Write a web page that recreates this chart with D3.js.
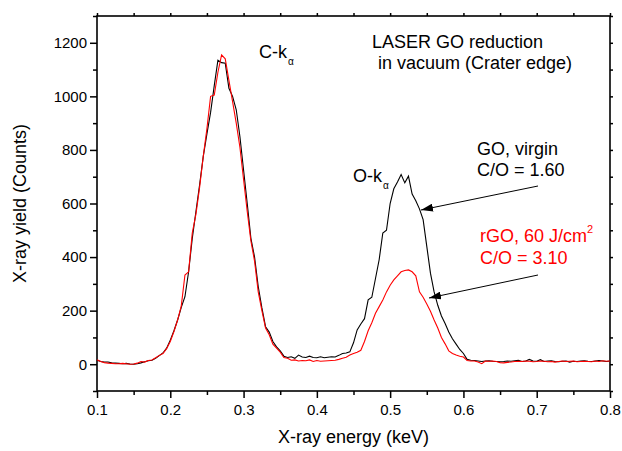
<!DOCTYPE html>
<html>
<head>
<meta charset="utf-8">
<script src="https://cdn.jsdelivr.net/npm/d3@7"></script>
<style>
  body { margin: 0; background: #fff; }
  svg { font-family: "Liberation Sans", Arial, sans-serif; }
</style>
</head>
<body>
<script>
// energy channels (keV)
const energy = [
  0.100, 0.105, 0.110, 0.115, 0.120, 0.125, 0.130, 0.135, 0.140, 0.145,
  0.150, 0.155, 0.160, 0.165, 0.170, 0.175, 0.180, 0.185, 0.190, 0.195,
  0.200, 0.205, 0.210, 0.215, 0.220, 0.225, 0.230, 0.235, 0.240, 0.245,
  0.250, 0.255, 0.260, 0.265, 0.270, 0.275, 0.280, 0.285, 0.290, 0.295,
  0.300, 0.305, 0.310, 0.315, 0.320, 0.325, 0.330, 0.335, 0.340, 0.345,
  0.350, 0.355, 0.360, 0.365, 0.370, 0.375, 0.380, 0.385, 0.390, 0.395,
  0.400, 0.405, 0.410, 0.415, 0.420, 0.425, 0.430, 0.435, 0.440, 0.445,
  0.450, 0.455, 0.460, 0.465, 0.470, 0.475, 0.480, 0.485, 0.490, 0.495,
  0.500, 0.505, 0.510, 0.515, 0.520, 0.525, 0.530, 0.535, 0.540, 0.545,
  0.550, 0.555, 0.560, 0.565, 0.570, 0.575, 0.580, 0.585, 0.590, 0.595,
  0.600, 0.605, 0.610, 0.615, 0.620, 0.625, 0.630, 0.635, 0.640, 0.645,
  0.650, 0.655, 0.660, 0.665, 0.670, 0.675, 0.680, 0.685, 0.690, 0.695,
  0.700, 0.705, 0.710, 0.715, 0.720, 0.725, 0.730, 0.735, 0.740, 0.745,
  0.750, 0.755, 0.760, 0.765, 0.770, 0.775, 0.780, 0.785, 0.790, 0.795,
  0.800
];

// GO, virgin (black)
const goVirgin = [
  15, 10, 8, 8, 5, 4, 3, 2, 3, 1,
  0, 2, 5, 9, 13, 15, 22, 32, 42, 60,
  90, 125, 165, 212, 252, 345, 470, 570, 670, 776,
  860, 940, 1040, 1135, 1126, 1124, 1030, 1000, 950, 850,
  725, 600, 470, 400, 290, 210, 140, 120, 85, 65,
  50, 30, 25, 28, 22, 34, 27, 25, 30, 25,
  24, 28, 24, 26, 28, 27, 33, 40, 42, 46,
  80, 128, 150, 170, 240, 250, 320, 390, 490, 500,
  600, 655, 680, 708, 677, 702, 635, 610, 580, 540,
  440, 340, 270, 220, 180, 152, 120, 95, 75, 55,
  40, 18, 15, 14, 12, 10, 12, 13, 11, 10,
  9, 10, 12, 11, 13, 15, 10, 12, 18, 12,
  11, 17, 10, 12, 13, 10, 9, 11, 12, 8,
  11, 10, 12, 13, 11, 10, 12, 14, 12, 10,
  12
];

// rGO, 60 J/cm2 (red)
const rGO = [
  17, 10, 6, 4, 3, 2, 2, 3, 2, 0,
  1, 4, 10, 8, 14, 16, 24, 33, 40, 58,
  85, 122, 165, 218, 333, 345, 490, 560, 660, 776,
  880, 1000, 1005, 1090, 1155, 1140, 1060, 980, 900, 810,
  690, 570, 460, 385, 270, 200, 135, 110, 75, 60,
  45, 25, 22, 15, 16, 12, 14, 13, 16, 10,
  14, 11, 12, 13, 14, 15, 18, 22, 26, 34,
  40, 45, 52, 85, 125, 155, 190, 215, 240, 270,
  295, 315, 330, 345, 350, 352, 345, 330, 270, 250,
  225, 198, 165, 135, 100, 76, 50, 40, 34, 30,
  27, 14, 12, 12, 8, 2, 12, 11, 12, 10,
  6, 5, 7, 8, 10, 11, 10, 12, 11, 9,
  10, 12, 11, 9, 10, 8, 10, 12, 10, 11,
  12, 9, 10, 11, 10, 9, 12, 10, 13, 11,
  12
];

const xTicks = [0.1, 0.2, 0.3, 0.4, 0.5, 0.6, 0.7, 0.8];
const yTicks = [0, 200, 400, 600, 800, 1000, 1200];

const width = 622, height = 451;
const margin = { left: 97, right: 12, top: 16, bottom: 60 };

const svg = d3.select("body").append("svg")
  .attr("width", width)
  .attr("height", height);

const x = d3.scaleLinear().domain([0.1, 0.8]).range([margin.left, width - margin.right]);
const y = d3.scaleLinear().domain([-100, 1300]).range([height - margin.bottom, margin.top]);

const xMinor = d3.range(0.15, 0.8, 0.1);
const yMinor = d3.range(-100, 1301, 200);

function styleAxis(g) {
  g.select(".domain").remove();
  g.selectAll("line").attr("stroke", "#000").attr("stroke-width", 1.5);
  g.selectAll("text").attr("fill", "#000").attr("font-size", 15);
}

// minor ticks
svg.append("g")
  .attr("transform", `translate(0,${y(-100)})`)
  .call(d3.axisBottom(x).tickValues(xMinor).tickSize(4).tickFormat(""))
  .call(styleAxis);
svg.append("g")
  .attr("transform", `translate(${x(0.1)},0)`)
  .call(d3.axisLeft(y).tickValues(yMinor).tickSize(4).tickFormat(""))
  .call(styleAxis);

// major ticks
svg.append("g")
  .attr("transform", `translate(0,${y(-100)})`)
  .call(d3.axisBottom(x).tickValues(xTicks).tickSize(7).tickPadding(6).tickFormat(d3.format(".1f")))
  .call(styleAxis);
svg.append("g")
  .attr("transform", `translate(${x(0.1)},0)`)
  .call(d3.axisLeft(y).tickValues(yTicks).tickSize(7).tickPadding(3).tickFormat(d3.format("d")))
  .call(styleAxis);

// mirrored top / right ticks
svg.append("g")
  .attr("transform", `translate(0,${y(1300)})`)
  .call(d3.axisTop(x).tickValues(xTicks.concat(xMinor)).tickSize(3).tickFormat(""))
  .call(styleAxis);
svg.append("g")
  .attr("transform", `translate(${x(0.8)},0)`)
  .call(d3.axisRight(y).tickValues(yTicks.concat(yMinor)).tickSize(3).tickFormat(""))
  .call(styleAxis);

// frame
svg.append("rect")
  .attr("x", x(0.1)).attr("y", y(1300))
  .attr("width", x(0.8) - x(0.1)).attr("height", y(-100) - y(1300))
  .attr("fill", "none").attr("stroke", "#000").attr("stroke-width", 1.6);

const line = d3.line()
  .x((d, i) => x(energy[i]))
  .y(d => y(d));

svg.append("path").datum(goVirgin)
  .attr("d", line).attr("fill", "none")
  .attr("stroke", "#000").attr("stroke-width", 1.1);

svg.append("path").datum(rGO)
  .attr("d", line).attr("fill", "none")
  .attr("stroke", "#ff0000").attr("stroke-width", 1.1);

// axis titles
svg.append("text")
  .attr("x", (x(0.1) + x(0.8)) / 2).attr("y", 443)
  .attr("text-anchor", "middle").attr("font-size", 18)
  .text("X-ray energy (keV)");

svg.append("text")
  .attr("transform", `translate(26,${(y(-100) + y(1300)) / 2}) rotate(-90)`)
  .attr("text-anchor", "middle").attr("font-size", 18)
  .text("X-ray yield (Counts)");

// annotations
function label(tx, ty, main, sub, color) {
  const t = svg.append("text").attr("x", tx).attr("y", ty)
    .attr("font-size", 18).attr("fill", color || "#000");
  t.append("tspan").text(main);
  if (sub) t.append("tspan").attr("dy", 7).attr("dx", 1).attr("font-size", 10).text(sub);
  return t;
}

label(259, 58, "C-k", "α");
label(353, 182, "O-k", "α");
label(372, 48, "LASER GO reduction");
label(378, 69, "in vacuum (Crater edge)");
label(477, 155, "GO, virgin");
label(477, 176, "C/O = 1.60");

const red = svg.append("text").attr("x", 480).attr("y", 242)
  .attr("font-size", 18).attr("fill", "#ff0000");
red.append("tspan").text("rGO, 60 J/cm");
red.append("tspan").attr("dy", -9).attr("font-size", 11).text("2");
label(480, 264, "C/O = 3.10", null, "#ff0000");

// arrows
svg.append("defs").append("marker")
  .attr("id", "head")
  .attr("viewBox", "0 0 12 8")
  .attr("refX", 12).attr("refY", 4)
  .attr("markerWidth", 12).attr("markerHeight", 8)
  .attr("markerUnits", "userSpaceOnUse")
  .attr("orient", "auto")
  .append("path").attr("d", "M0,0 L12,4 L0,8 Z").attr("fill", "#000");

const arrows = [
  { x1: 538, y1: 186, x2: 421, y2: 210 },
  { x1: 538, y1: 275, x2: 429, y2: 298 }
];
svg.selectAll(".arrow").data(arrows).enter().append("line")
  .attr("class", "arrow")
  .attr("x1", d => d.x1).attr("y1", d => d.y1)
  .attr("x2", d => d.x2).attr("y2", d => d.y2)
  .attr("stroke", "#000").attr("stroke-width", 1)
  .attr("marker-end", "url(#head)");
</script>
</body>
</html>
